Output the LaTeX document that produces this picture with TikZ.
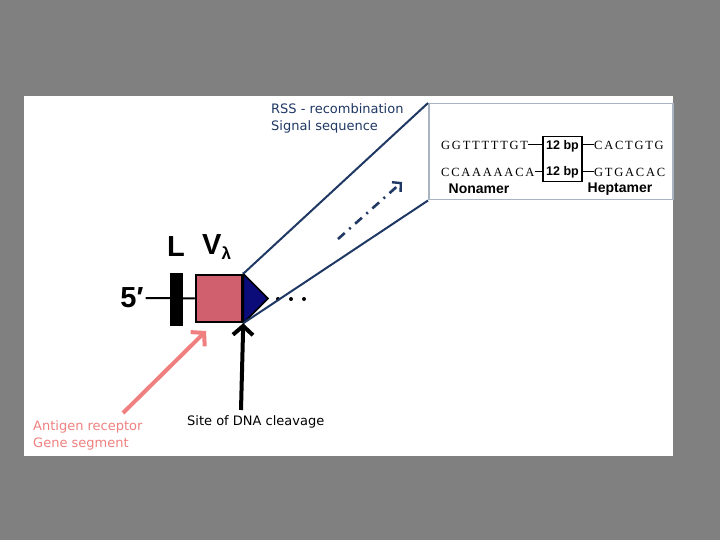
\documentclass[tikz,border=0pt]{standalone}
\usepackage{fontspec}
\setmainfont{DejaVu Sans}
\newfontfamily\labelfont{Liberation Sans}
\newfontfamily\seqfont[LetterSpace=14]{Liberation Serif}
\usetikzlibrary{arrows.meta,positioning}
\definecolor{slate}{HTML}{808080}
\definecolor{navy}{HTML}{1F3864}
\definecolor{deepblue}{HTML}{0B0B7A}
\definecolor{rose}{HTML}{D0606E}
\definecolor{salmon}{HTML}{F08080}
\definecolor{frame}{HTML}{A9B4C2}
\tikzset{
  note/.style={font=\fontsize{13}{17}\selectfont, anchor=west, inner sep=0pt, align=left},
  seq/.style={font=\seqfont\fontsize{12.5}{12.5}\selectfont, inner sep=0pt, anchor=west},
  big/.style={font=\labelfont\bfseries\fontsize{29}{29}\selectfont, inner sep=0pt},
  tag/.style={font=\labelfont\bfseries\fontsize{14}{14}\selectfont, inner sep=0pt},
  bp/.style={font=\labelfont\bfseries\fontsize{12.5}{12.5}\selectfont, inner sep=0pt},
  ray/.style={draw=navy, line width=2pt},
  pointer/.style={line width=4pt, -{Straight Barb[length=9pt, width=20pt, line width=4pt]}},
  tick/.style={line width=1pt}
}
\begin{document}
\begin{tikzpicture}[x=1pt, y=-1pt]
  \useasboundingbox (0,0) rectangle (720,540);
  \fill[slate] (0,0) rectangle (720,540);
  \fill[white] (24,96) rectangle (673,456);

  % gene segment
  \node[big] (five) at (132,298) {5′};
  \node[fill=black, minimum width=13pt, minimum height=53pt, inner sep=0pt] (lbar) at (176,299) {};
  \node[draw, line width=2.5pt, fill=rose, minimum width=46pt, minimum height=47pt, inner sep=0pt] (vseg) at (219,298.5) {};
  \draw[line width=2pt] ([xshift=2pt]five.east) -- (vseg.west);
  \node[big] (lname) at (176,247) {L};
  \node[big, anchor=west] (vname) at (202,247) {V{\fontsize{17}{17}\selectfont\raisebox{-5pt}{λ}}};
  \coordinate (rsstip) at (268,298.5);
  \draw[fill=deepblue, line width=1.5pt] (vseg.north east) -- (rsstip) -- (vseg.south east) -- cycle;
  \foreach \x in {278,291,304}
    \fill (\x,299) circle (2pt);

  % RSS inset
  \node[draw=frame, line width=1.5pt, fill=white, minimum width=244pt, minimum height=96pt,
    anchor=north west, inner sep=0pt] (inset) at (428,103) {};
  \draw[ray] (vseg.north east) -- (inset.north west);
  \draw[ray] (vseg.south east) -- (inset.south west);
  \coordinate (zoomfrom) at (338,239);
  \coordinate (zoomto) at (402,182);
  \draw[navy, line width=2.6pt, dash pattern=on 9pt off 6pt on 2pt off 6pt,
    -{Straight Barb[length=6pt, width=13pt, line width=2.4pt]}] (zoomfrom) -- (zoomto);
  \node[note, text=navy] (rss) at (271,118) {RSS - recombination\\Signal sequence};

  \node[draw, line width=1.2pt, minimum width=39pt, minimum height=45pt, inner sep=0pt] (spacer) at (562.5,159) {};
  \node[bp] (bpA) at (562.5,146) {12 bp};
  \node[bp] (bpB) at (562.5,172) {12 bp};
  \node[seq] (nonA) at (441,145) {GGTTTTTGT};
  \node[seq] (nonB) at (441,172) {CCAAAAACA};
  \node[seq] (hepA) at (594,145) {CACTGTG};
  \node[seq] (hepB) at (594,172) {GTGACAC};
  \draw[tick] (nonA.east) -- (nonA.east -| spacer.west);
  \draw[tick] (nonB.east) -- (nonB.east -| spacer.west);
  \draw[tick] (hepA.west -| spacer.east) -- (hepA.west);
  \draw[tick] (hepB.west -| spacer.east) -- (hepB.west);
  \node[tag] (nona) at (479,189) {Nonamer};
  \node[tag] (hepta) at (620,189) {Heptamer};

  % pointers
  \coordinate (genetail) at (123,413);
  \coordinate (genetip) at (206,331);
  \draw[pointer, salmon] (genetail) -- (genetip);
  \coordinate (cuttail) at (241,410);
  \draw[pointer] (cuttail) -- (vseg.south east);
  \node[note, text=salmon] (gene) at (33,435) {Antigen receptor\\Gene segment};
  \node[note] (cut) at (187,422) {Site of DNA cleavage};
\end{tikzpicture}
\end{document}
